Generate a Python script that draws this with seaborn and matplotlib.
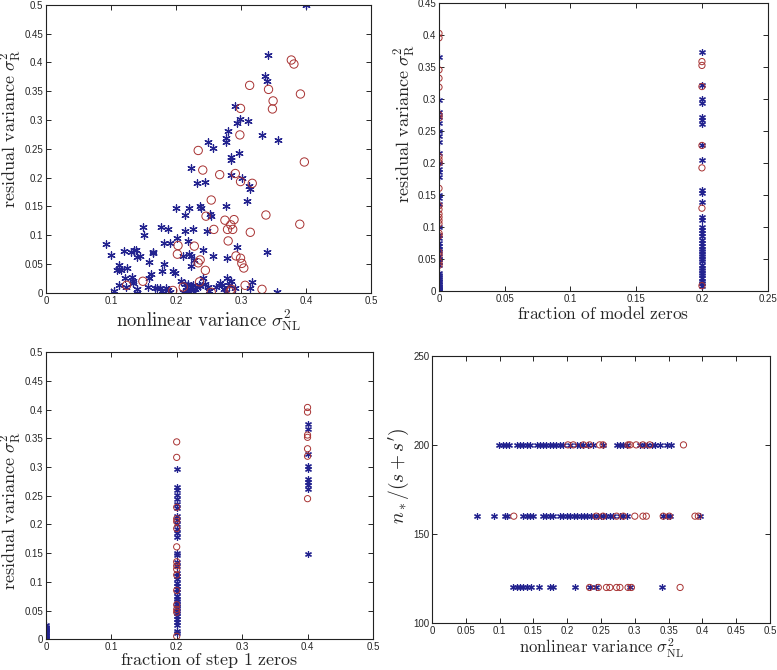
import matplotlib
matplotlib.use("Agg")
import matplotlib.pyplot as plt
from matplotlib.ticker import FormatStrFormatter
import numpy as np
import seaborn as sns

BLUE = "#23238f"
RED = "#a83232"

# panel 1: nonlinear variance vs residual variance
p1_blue_x = [0.399, 0.341, 0.336, 0.340, 0.291, 0.298, 0.293, 0.311, 0.279, 0.332,
             0.277, 0.277, 0.249, 0.357, 0.256, 0.297, 0.284, 0.285, 0.223, 0.285,
             0.302, 0.245, 0.232, 0.312, 0.313, 0.309, 0.200, 0.220, 0.236, 0.238,
             0.277, 0.214, 0.252, 0.254, 0.149, 0.177, 0.188, 0.214, 0.226, 0.247,
             0.150, 0.202, 0.219, 0.181, 0.191, 0.092, 0.293, 0.241, 0.136, 0.139,
             0.120, 0.131, 0.165, 0.220, 0.340, 0.100, 0.223, 0.211, 0.256, 0.145,
             0.140, 0.164, 0.278, 0.158, 0.227, 0.181, 0.113, 0.223, 0.178, 0.195,
             0.113, 0.125, 0.109, 0.115, 0.162, 0.198, 0.133, 0.122, 0.159, 0.278,
             0.241, 0.123, 0.113, 0.104, 0.134, 0.134, 0.140, 0.140, 0.157, 0.167,
             0.171, 0.175, 0.179, 0.184, 0.188, 0.190, 0.207, 0.213, 0.217, 0.219,
             0.221, 0.224, 0.226, 0.229, 0.232, 0.235, 0.218, 0.210, 0.228, 0.237,
             0.249, 0.251, 0.262, 0.268, 0.271, 0.274, 0.281, 0.284, 0.277, 0.291,
             0.313, 0.316, 0.355, 0.245]
p1_blue_y = [0.500, 0.413, 0.376, 0.367, 0.324, 0.302, 0.295, 0.298, 0.280, 0.273,
             0.268, 0.262, 0.262, 0.265, 0.252, 0.243, 0.236, 0.231, 0.217, 0.204,
             0.199, 0.192, 0.190, 0.186, 0.180, 0.159, 0.148, 0.148, 0.150, 0.148,
             0.150, 0.135, 0.136, 0.133, 0.115, 0.115, 0.110, 0.108, 0.111, 0.108,
             0.100, 0.095, 0.090, 0.087, 0.087, 0.085, 0.080, 0.074, 0.074, 0.074,
             0.072, 0.071, 0.070, 0.067, 0.070, 0.065, 0.064, 0.063, 0.063, 0.063,
             0.062, 0.069, 0.060, 0.053, 0.057, 0.050, 0.049, 0.046, 0.038, 0.037,
             0.042, 0.043, 0.039, 0.039, 0.032, 0.034, 0.028, 0.026, 0.025, 0.026,
             0.026, 0.010, 0.013, 0.003, 0.020, 0.017, 0.007, 0.000, 0.010, 0.008,
             0.008, 0.008, 0.003, 0.008, 0.005, 0.001, 0.020, 0.015, 0.010, 0.016,
             0.006, 0.010, 0.014, 0.006, 0.010, 0.013, 0.003, 0.001, 0.001, 0.012,
             0.010, 0.003, 0.010, 0.017, 0.013, 0.007, 0.013, 0.020, 0.001, 0.009,
             0.008, 0.019, 0.001, 0.016]
p1_red_x = [0.377, 0.381, 0.313, 0.342, 0.391, 0.349, 0.348, 0.299, 0.298, 0.234,
            0.241, 0.267, 0.291, 0.299, 0.317, 0.397, 0.254, 0.338, 0.246, 0.275,
            0.289, 0.284, 0.258, 0.279, 0.287, 0.314, 0.390, 0.280, 0.203, 0.228,
            0.202, 0.292, 0.299, 0.237, 0.234, 0.301, 0.304, 0.245, 0.149, 0.236,
            0.306, 0.124, 0.332, 0.195, 0.211, 0.254, 0.285, 0.283]
p1_red_y = [0.404, 0.397, 0.360, 0.353, 0.345, 0.333, 0.319, 0.320, 0.274, 0.247,
            0.213, 0.205, 0.207, 0.193, 0.190, 0.227, 0.161, 0.135, 0.133, 0.126,
            0.127, 0.118, 0.110, 0.110, 0.110, 0.105, 0.119, 0.090, 0.082, 0.081,
            0.067, 0.064, 0.060, 0.057, 0.052, 0.051, 0.043, 0.039, 0.020, 0.019,
            0.013, 0.013, 0.006, 0.004, 0.010, 0.001, 0.006, 0.002]

# panel 2: fraction of model zeros (0 or 0.2) vs residual variance
p2_blue_at0 = [0.365, 0.298, 0.280, 0.272, 0.262, 0.250, 0.242, 0.232, 0.215, 0.200,
               0.190, 0.185, 0.178, 0.150, 0.145, 0.135, 0.100, 0.087, 0.082, 0.075,
               0.070, 0.066, 0.062, 0.055, 0.050, 0.045, 0.040, 0.028, 0.025, 0.022,
               0.019, 0.016, 0.013, 0.010, 0.008, 0.006, 0.004, 0.002, 0.001, 0.000]
p2_red_at0 = [0.402, 0.395, 0.345, 0.332, 0.318, 0.275, 0.270, 0.210, 0.205, 0.200,
              0.160, 0.133, 0.127, 0.120, 0.115, 0.110, 0.105, 0.090, 0.086, 0.060,
              0.055, 0.045, 0.040]
p2_blue_at02 = [0.373, 0.322, 0.300, 0.294, 0.272, 0.267, 0.261, 0.227, 0.205, 0.158,
                0.153, 0.138, 0.115, 0.110, 0.100, 0.095, 0.090, 0.085, 0.080, 0.075,
                0.070, 0.066, 0.062, 0.058, 0.054, 0.050, 0.046, 0.040, 0.036, 0.032,
                0.028, 0.024, 0.020, 0.016, 0.012, 0.008]
p2_red_at02 = [0.358, 0.352, 0.319, 0.227, 0.192, 0.129, 0.008]

# panel 3: fraction of step 1 zeros (0, 0.2, 0.4) vs residual variance
p3_blue_at0 = [0.024, 0.022, 0.020, 0.018, 0.016, 0.014, 0.012, 0.010, 0.008, 0.006,
               0.004, 0.002, 0.000]
p3_blue_at02 = [0.297, 0.265, 0.260, 0.252, 0.245, 0.235, 0.228, 0.215, 0.208, 0.200,
                0.192, 0.185, 0.178, 0.150, 0.146, 0.135, 0.128, 0.115, 0.110, 0.105,
                0.098, 0.092, 0.087, 0.082, 0.075, 0.070, 0.066, 0.062, 0.058, 0.054,
                0.050, 0.045, 0.040, 0.035, 0.030, 0.025, 0.015, 0.010]
p3_red_at02 = [0.344, 0.317, 0.230, 0.210, 0.205, 0.193, 0.161, 0.135, 0.128, 0.122,
               0.112, 0.085, 0.060, 0.052, 0.047, 0.005]
p3_blue_at04 = [0.375, 0.367, 0.323, 0.302, 0.296, 0.280, 0.274, 0.268, 0.262, 0.148]
p3_red_at04 = [0.404, 0.396, 0.356, 0.352, 0.332, 0.319, 0.245]

# panel 4: nonlinear variance vs n*/(s+s') levels 200, 160, 120
p4_blue_200 = [0.099, 0.105, 0.110, 0.114, 0.125, 0.130, 0.135, 0.140, 0.145, 0.155,
               0.160, 0.164, 0.169, 0.174, 0.179, 0.184, 0.189, 0.194, 0.204, 0.214,
               0.219, 0.224, 0.231, 0.238, 0.253, 0.273, 0.278, 0.283, 0.288, 0.308,
               0.313, 0.318, 0.325, 0.330, 0.337, 0.347, 0.354]
p4_red_200 = [0.201, 0.209, 0.224, 0.233, 0.248, 0.253, 0.290, 0.293, 0.302, 0.312,
              0.322, 0.372]
p4_blue_160 = [0.067, 0.091, 0.108, 0.111, 0.135, 0.140, 0.145, 0.150, 0.164, 0.168,
               0.174, 0.179, 0.189, 0.194, 0.199, 0.204, 0.210, 0.215, 0.220, 0.225,
               0.230, 0.235, 0.240, 0.245, 0.250, 0.253, 0.258, 0.263, 0.268, 0.278,
               0.283, 0.288, 0.342, 0.347, 0.352, 0.396]
p4_red_160 = [0.121, 0.243, 0.253, 0.273, 0.283, 0.300, 0.312, 0.317, 0.342, 0.351,
              0.389, 0.394]
p4_blue_120 = [0.120, 0.125, 0.130, 0.135, 0.140, 0.147, 0.158, 0.174, 0.179, 0.212,
               0.233, 0.243, 0.293, 0.340]
p4_red_120 = [0.233, 0.246, 0.258, 0.263, 0.273, 0.278, 0.290, 0.295, 0.367]

LBL_R = r"$\mathrm{residual\ variance}\ \sigma^2_{\mathrm{R}}$"
LBL_NL = r"$\mathrm{nonlinear\ variance}\ \sigma^2_{\mathrm{NL}}$"
LBL_MODEL = r"$\mathrm{fraction\ of\ model\ zeros}$"
LBL_STEP1 = r"$\mathrm{fraction\ of\ step\ 1\ zeros}$"
LBL_N = r"$n_*/(s+s^{\prime})$"

sns.set_style("ticks")
plt.rcParams["font.family"] = ["Liberation Sans", "DejaVu Sans"]
plt.rcParams["mathtext.fontset"] = "cm"


def stars(ax, x, y, s=28):
    sns.scatterplot(x=x, y=y, ax=ax, marker=(6, 2, 0), color=BLUE,
                    s=s, linewidth=0.9)


def rings(ax, x, y, s=30):
    sns.scatterplot(x=x, y=y, ax=ax, marker="o", color=RED, facecolor="none",
                    edgecolor=RED, s=s, linewidth=0.7)


def style_axes(ax, xlim, ylim, xstep, ystep, xlabel, ylabel,
               xsize=12, ysize=13, ylab_xy=(-0.06, 0.5), xpad=1):
    ax.set_xlim(*xlim)
    ax.set_ylim(*ylim)
    ax.set_xticks(np.arange(xlim[0], xlim[1] + xstep / 2, xstep))
    ax.set_yticks(np.arange(ylim[0], ylim[1] + ystep / 2, ystep))
    ax.xaxis.set_major_formatter(FormatStrFormatter("%g"))
    ax.yaxis.set_major_formatter(FormatStrFormatter("%g"))
    ax.tick_params(direction="in", length=3.5, width=0.7, labelsize=7,
                   top=True, right=True, pad=2)
    for sp in ax.spines.values():
        sp.set_linewidth(0.8)
        sp.set_color("#222222")
    ax.set_xlabel(xlabel, fontsize=xsize, labelpad=xpad)
    ax.set_ylabel(ylabel, fontsize=ysize)
    ax.yaxis.set_label_coords(*ylab_xy)


fig = plt.figure(figsize=(7.77, 6.70), dpi=100)
ax1 = fig.add_axes([0.059, 0.563, 0.419, 0.430])
ax2 = fig.add_axes([0.565, 0.566, 0.423, 0.430])
ax3 = fig.add_axes([0.059, 0.046, 0.421, 0.428])
ax4 = fig.add_axes([0.556, 0.070, 0.435, 0.399])

stars(ax1, p1_blue_x, p1_blue_y)
rings(ax1, p1_red_x, p1_red_y, s=36)
style_axes(ax1, (0, 0.5), (0, 0.5), 0.1, 0.05, LBL_NL, LBL_R,
           xsize=13.5, ylab_xy=(-0.066, 0.57))

stars(ax2, [0.0] * len(p2_blue_at0), p2_blue_at0, s=18)
stars(ax2, [0.2] * len(p2_blue_at02), p2_blue_at02, s=18)
rings(ax2, [0.0] * len(p2_red_at0), p2_red_at0, s=20)
rings(ax2, [0.2] * len(p2_red_at02), p2_red_at02, s=20)
style_axes(ax2, (0, 0.25), (0, 0.45), 0.05, 0.05, LBL_MODEL, LBL_R,
           xsize=12.5, ylab_xy=(-0.064, 0.58))

stars(ax3, [0.0] * len(p3_blue_at0), p3_blue_at0, s=18)
stars(ax3, [0.2] * len(p3_blue_at02), p3_blue_at02, s=18)
stars(ax3, [0.4] * len(p3_blue_at04), p3_blue_at04, s=18)
rings(ax3, [0.2] * len(p3_red_at02), p3_red_at02, s=20)
rings(ax3, [0.4] * len(p3_red_at04), p3_red_at04, s=20)
style_axes(ax3, (0, 0.5), (0, 0.5), 0.1, 0.05, LBL_STEP1, LBL_R,
           xsize=13, ylab_xy=(-0.066, 0.45), xpad=-1)

stars(ax4, p4_blue_200, [200] * len(p4_blue_200), s=18)
stars(ax4, p4_blue_160, [160] * len(p4_blue_160), s=18)
stars(ax4, p4_blue_120, [120] * len(p4_blue_120), s=18)
rings(ax4, p4_red_200, [200] * len(p4_red_200), s=20)
rings(ax4, p4_red_160, [160] * len(p4_red_160), s=20)
rings(ax4, p4_red_120, [120] * len(p4_red_120), s=20)
style_axes(ax4, (0, 0.5), (100, 250), 0.05, 50, LBL_NL, LBL_N,
           xsize=12, ysize=14, ylab_xy=(-0.063, 0.55))

fig.savefig("out.png", dpi=100)
plt.close(fig)
